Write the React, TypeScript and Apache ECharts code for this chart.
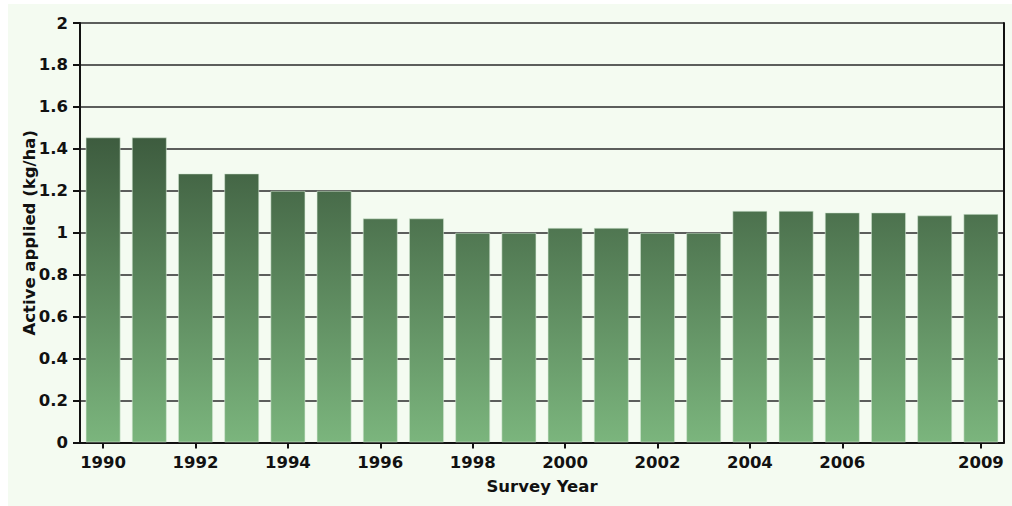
import React, { useEffect, useRef } from "react";
import * as echarts from "echarts";

// Survey years and active ingredient applied (kg/ha)
const years: string[] = [
  "1990", "1991", "1992", "1993", "1994", "1995", "1996", "1997", "1998", "1999",
  "2000", "2001", "2002", "2003", "2004", "2005", "2006", "2007", "2008", "2009",
];
const activeApplied: number[] = [
  1.455, 1.455, 1.283, 1.283, 1.2, 1.2, 1.069, 1.069, 1.0, 1.0,
  1.024, 1.024, 1.0, 1.0, 1.105, 1.105, 1.097, 1.097, 1.083, 1.09,
];
// Year labels shown under the axis
const shownYears: string[] = [
  "1990", "1992", "1994", "1996", "1998", "2000", "2002", "2004", "2006", "2009",
];

const yMin = 0;
const yMax = 2;
const yStep = 0.2;

const FONT = "'DejaVu Sans', Verdana, sans-serif";
const PANEL = "#f4fbf1";
const TEXT = { fontFamily: FONT, fontWeight: "bold", fontSize: 16.5, color: "#111" };

export default function App() {
  const ref = useRef<HTMLDivElement>(null);

  useEffect(() => {
    if (!ref.current) return;
    const chart = echarts.init(ref.current, undefined, { renderer: "svg" });
    const showLabel = (i: number) => shownYears.includes(years[i]);

    const gridTop = 23;
    const gridBottom = 63.5;

    chart.setOption({
      animation: false,
      backgroundColor: "#ffffff",
      graphic: [
        {
          type: "rect",
          z: -10,
          silent: true,
          shape: { x: 8, y: 4, width: 1004, height: 502 },
          style: { fill: PANEL },
        },
      ],
      grid: { left: 80, right: 8, top: gridTop, bottom: gridBottom, containLabel: false },
      xAxis: {
        type: "category",
        data: years,
        name: "Survey Year",
        nameLocation: "middle",
        nameGap: 35,
        nameMoveOverlap: false,
        nameTextStyle: TEXT,
        axisLine: { show: true, lineStyle: { color: "#111", width: 2 } },
        axisTick: {
          show: true,
          alignWithLabel: true,
          interval: (i: number) => showLabel(i),
          length: 6,
          lineStyle: { color: "#111", width: 2 },
        },
        axisLabel: {
          interval: (i: number) => showLabel(i),
          margin: 11,
          ...TEXT,
        },
        splitLine: { show: false },
      },
      yAxis: [
        {
          type: "value",
          min: yMin,
          max: yMax,
          interval: yStep,
          name: "Active applied (kg/ha)",
          nameLocation: "middle",
          nameGap: 42,
          nameMoveOverlap: false,
          nameTextStyle: TEXT,
          axisLine: { show: true, lineStyle: { color: "#111", width: 2 } },
          axisTick: { show: true, length: 7, lineStyle: { color: "#111", width: 2 } },
          axisLabel: { margin: 12, ...TEXT },
          splitLine: { show: true, lineStyle: { color: "#2a2a2a", width: 1.6 } },
        },
        {
          type: "value",
          position: "right",
          min: yMin,
          max: yMax,
          interval: yStep,
          axisLine: { show: true, lineStyle: { color: "#111", width: 2 } },
          axisTick: { show: false },
          axisLabel: { show: false },
          splitLine: { show: false },
        },
      ],
      series: [
        {
          type: "bar",
          data: activeApplied,
          barCategoryGap: "24%",
          itemStyle: {
            color: new echarts.graphic.LinearGradient(
              0, gridTop, 0, 506 - gridBottom,
              [
                { offset: 0, color: "#263a27" },
                { offset: 1, color: "#7bb57d" },
              ],
              true
            ),
            borderColor: "rgba(215,235,215,0.55)",
            borderWidth: 1,
          },
        },
      ],
    });

    return () => chart.dispose();
  }, []);

  return (
    <div
      ref={ref}
      style={{ position: "absolute", left: 0, top: 0, width: 1012, height: 506 }}
    />
  );
}
